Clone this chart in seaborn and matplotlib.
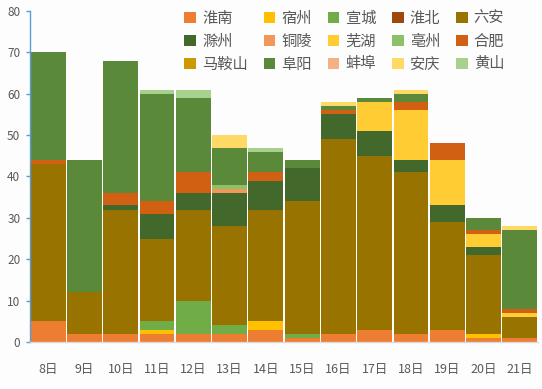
import pandas as pd
import seaborn as sns
import matplotlib.pyplot as plt
from matplotlib.patches import Patch

days = [8, 9, 10, 11, 12, 13, 14, 15, 16, 17, 18, 19, 20, 21]
day_labels = [f"{d}日" for d in days]

cities = ['淮南', '宿州', '宣城', '淮北', '六安', '滁州', '铜陵', '芜湖',
          '亳州', '合肥', '马鞍山', '阜阳', '蚌埠', '安庆', '黄山']
colors = ['#ED7D31', '#FFC000', '#70AD47', '#9E480E', '#997300', '#43682B',
          '#F1975A', '#FFCD33', '#8CC168', '#D26012', '#CC9A00', '#5A8A39',
          '#F4B183', '#FFD966', '#A9D18E']

# values per city, one entry per day (8日 .. 21日)
huainan  = [5, 2, 2, 2, 2, 2, 3, 1, 2, 3, 2, 3, 1, 1]
suzhou   = [0, 0, 0, 1, 0, 0, 2, 0, 0, 0, 0, 0, 1, 0]
xuancheng = [0, 0, 0, 2, 8, 2, 0, 1, 0, 0, 0, 0, 0, 0]
huaibei  = [0, 0, 0, 0, 0, 0, 0, 0, 0, 0, 0, 0, 0, 0]
luan     = [38, 10, 30, 20, 22, 24, 27, 32, 47, 42, 39, 26, 19, 5]
chuzhou  = [0, 0, 1, 6, 4, 8, 7, 8, 6, 6, 3, 4, 2, 0]
tongling = [0, 0, 0, 0, 0, 1, 0, 0, 0, 0, 0, 0, 0, 0]
wuhu     = [0, 0, 0, 0, 0, 0, 0, 0, 0, 7, 12, 11, 3, 1]
bozhou   = [0, 0, 0, 0, 0, 1, 0, 0, 0, 0, 0, 0, 0, 0]
hefei    = [1, 0, 3, 3, 5, 0, 2, 0, 1, 0, 2, 4, 1, 1]
maanshan = [0, 0, 0, 0, 0, 0, 0, 0, 0, 0, 0, 0, 0, 0]
fuyang   = [26, 32, 32, 26, 18, 9, 5, 2, 1, 1, 2, 0, 3, 19]
bengbu   = [0, 0, 0, 0, 0, 0, 0, 0, 0, 0, 0, 0, 0, 0]
anqing   = [0, 0, 0, 0, 0, 3, 0, 0, 1, 0, 1, 0, 0, 1]
huangshan = [0, 0, 0, 1, 2, 0, 1, 0, 0, 0, 0, 0, 0, 0]

series = [huainan, suzhou, xuancheng, huaibei, luan, chuzhou, tongling, wuhu,
          bozhou, hefei, maanshan, fuyang, bengbu, anqing, huangshan]

rows = []
for city, vals in zip(cities, series):
    for d, v in zip(days, vals):
        rows.append({'day': d, 'city': city, 'value': v})
df = pd.DataFrame(rows)

sns.set_theme(style='white')
plt.rcParams['font.family'] = ['Noto Sans CJK SC', 'DejaVu Sans']

fig = plt.figure(figsize=(5.42, 3.89), dpi=100, facecolor='#fdfdfd')
ax = fig.add_axes([0.0554, 0.1208, 0.937, 0.851])
ax.set_facecolor('#fdfdfd')

# seaborn stacks the last hue level at the bottom, so reverse the order
sns.histplot(data=df, x='day', weights='value', hue='city',
             hue_order=cities[::-1], palette=colors[::-1],
             multiple='stack', discrete=True, shrink=0.96,
             linewidth=0, alpha=1, legend=False, ax=ax)

ax.set_xlim(7.5, 21.5)
ax.set_ylim(0, 80)
ax.set_yticks(range(0, 81, 10))
ax.set_xticks(days)
ax.set_xticklabels(day_labels)
ax.set_xlabel('')
ax.set_ylabel('')

for s in ['top', 'right']:
    ax.spines[s].set_visible(False)
ax.spines['left'].set_color('#5B9BD5')
ax.spines['left'].set_linewidth(1)
ax.spines['bottom'].set_color('#D9D9D9')
ax.spines['bottom'].set_linewidth(1)

ax.tick_params(axis='y', which='major', left=True, length=3, width=1,
               color='#5B9BD5', labelsize=8.5, labelcolor='#595959', pad=4)
ax.tick_params(axis='x', which='major', bottom=False, labelsize=9,
               labelcolor='#595959', pad=9)

# legend is filled column by column, so reorder to read row by row
ncol, nrow = 5, 3
order = [r * ncol + c for c in range(ncol) for r in range(nrow)]
handles = [Patch(facecolor=colors[i], edgecolor='none') for i in order]
labels = [cities[i] for i in order]
fig.legend(handles, labels, ncol=ncol, loc='upper left',
           bbox_to_anchor=(0.315, 1.01), frameon=False,
           fontsize=11, labelcolor='#595959',
           handlelength=0.75, handleheight=0.75, handletextpad=0.4,
           columnspacing=1.05, labelspacing=0.38)

fig.savefig('out.png', dpi=100, facecolor=fig.get_facecolor())
